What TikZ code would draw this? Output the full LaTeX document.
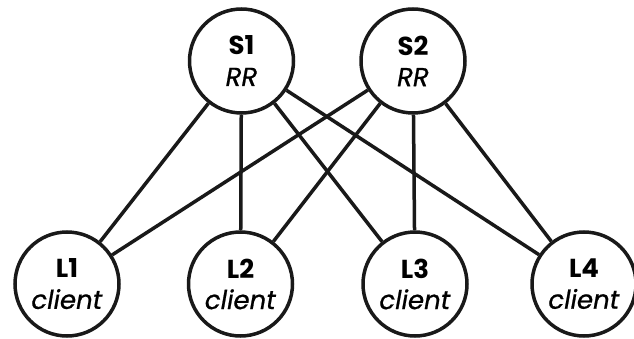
\documentclass[tikz,border=0pt]{standalone}
\usepackage{fontspec}
\setmainfont{Poppins}[ItalicFeatures={FakeBold=0.8}]
\begin{document}
\begin{tikzpicture}[x=1pt,y=-1pt,
  rnode/.style={circle,draw=black!90,line width=3.5pt,minimum size=104pt,inner sep=0pt,align=center,
    font=\fontsize{26}{31}\selectfont},
  link/.style={line width=3.5pt,black!90}]
\useasboundingbox (0,0) rectangle (634,339);
\node[rnode] (S1) at (241.5,61) {\textbf{S1}\\\textit{RR}};
\node[rnode] (S2) at (413,61) {\textbf{S2}\\\textit{RR}};
\node[rnode] (L1) at (67,284) {\textbf{L1}\\\textit{client}};
\node[rnode] (L2) at (240.5,284) {\textbf{L2}\\\textit{client}};
\node[rnode] (L3) at (415,284) {\textbf{L3}\\\textit{client}};
\node[rnode] (L4) at (584,284) {\textbf{L4}\\\textit{client}};
\foreach \s in {S1,S2}{
  \foreach \l in {L1,L2,L3,L4}{
    \draw[link] (\s) -- (\l);
  }
}
\end{tikzpicture}
\end{document}
